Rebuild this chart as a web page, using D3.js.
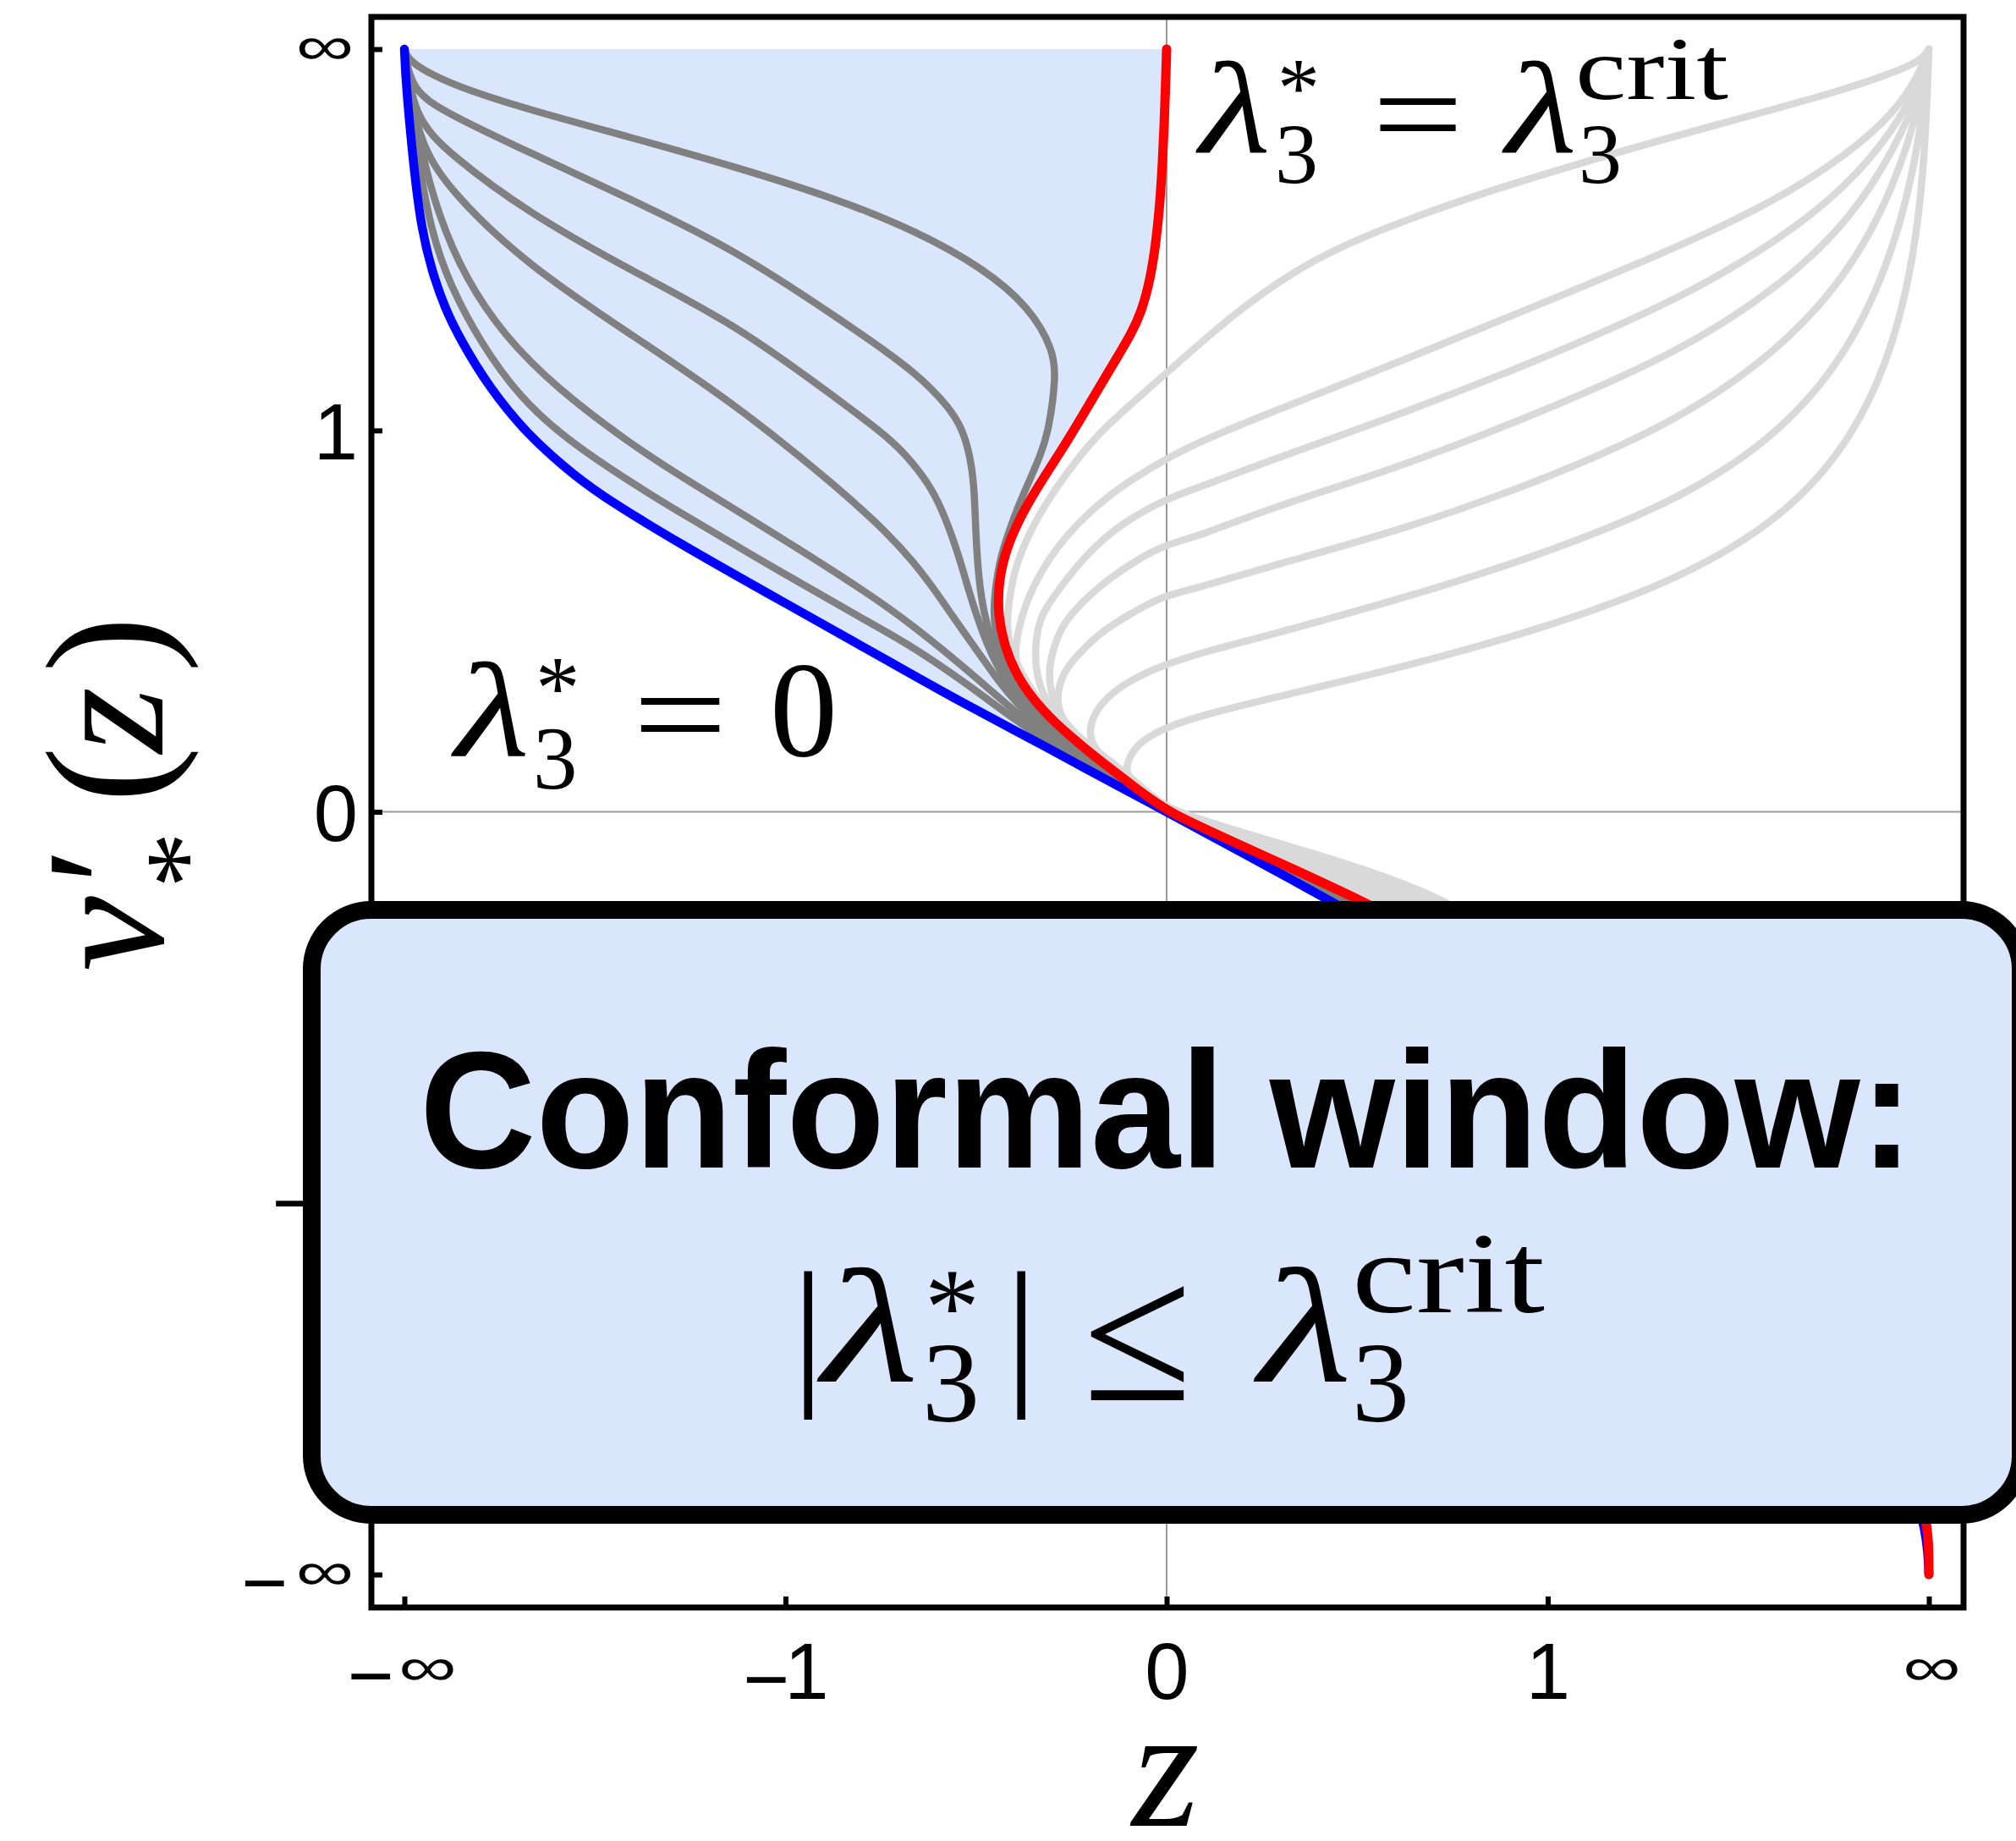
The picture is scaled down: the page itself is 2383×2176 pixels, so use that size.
<!DOCTYPE html>
<html>
<head>
<meta charset="utf-8">
<script src="https://cdn.jsdelivr.net/npm/d3@7"></script>
<style>
  html, body { margin: 0; padding: 0; background: #ffffff; }
  svg { display: block; }
</style>
</head>
<body>
<script>
// Both axes are compactified: t = s / (1 + |s|), so that ±∞ sit at t = ±1.
const xTickValues = [-1, -0.5, 0, 0.5, 1];
const xTickLabels = ["−∞", "−1", "0", "1", "∞"];
const yTickValues = [-1, -0.5, 0, 0.5, 1];
const yTickLabels = ["−∞", "−1", "0", "1", "∞"];

// λ3* = 0 solution (compactified z, compactified v'*)
const blueCurve = [
  [-1, 1], [-0.998, 0.959], [-0.9933, 0.9035], [-0.9865, 0.8342], [-0.9776, 0.7649],
  [-0.9641, 0.7094], [-0.9471, 0.6609], [-0.9267, 0.6193], [-0.8893, 0.5569],
  [-0.8383, 0.4945], [-0.79, 0.452], [-0.75, 0.4195], [-0.6345, 0.3489], [-0.4986, 0.2726],
  [-0.3627, 0.1964], [-0.2709, 0.1444], [-0.1588, 0.0855], [-0.0569, 0.03], [0, 0],
  [0.083, -0.045], [0.213, -0.1152], [0.36, -0.2], [0.51, -0.29], [0.66, -0.4],
  [0.79, -0.54], [0.89, -0.69], [0.955, -0.83], [0.997, -0.93], [1, -1]
];

// λ3* = λ3^crit solution
const redCurve = [
  [0, 1], [-0.0015, 0.95], [-0.0032, 0.9], [-0.0055, 0.85], [-0.0087, 0.8],
  [-0.0135, 0.75], [-0.021, 0.7], [-0.033, 0.655], [-0.0475, 0.625], [-0.0625, 0.6],
  [-0.0766, 0.5763], [-0.1099, 0.52], [-0.1395, 0.4713], [-0.1691, 0.4263],
  [-0.195, 0.3813], [-0.2135, 0.3363], [-0.2209, 0.295], [-0.2209, 0.2576],
  [-0.2135, 0.22], [-0.1987, 0.1825], [-0.1765, 0.1488], [-0.1469, 0.117],
  [-0.1099, 0.085], [-0.0729, 0.056], [-0.0359, 0.028], [0, 0], [0.1, -0.045],
  [0.2552, -0.1152], [0.4, -0.19], [0.55, -0.27], [0.7, -0.38], [0.82, -0.52],
  [0.91, -0.67], [0.97, -0.81], [0.996, -0.92], [1, -0.96], [1, -1]
];

// intermediate couplings 0 < λ3* < λ3^crit
const grayCurves = [
  [[-1, 1], [-0.9946, 0.9833], [-0.9403, 0.9535], [-0.8383, 0.9209], [-0.7024, 0.8841],
   [-0.5665, 0.846], [-0.4306, 0.803], [-0.3287, 0.7614], [-0.2404, 0.7129],
   [-0.1792, 0.6609], [-0.1486, 0.6054], [-0.1452, 0.5708], [-0.1543, 0.5013],
   [-0.1654, 0.4675], [-0.1802, 0.4338], [-0.195, 0.4], [-0.2061, 0.37],
   [-0.2172, 0.3363], [-0.2227, 0.3063], [-0.2264, 0.2763], [-0.2264, 0.25],
   [-0.222, 0.22], [-0.2098, 0.1825], [-0.15, 0.114], [-0.1, 0.0736],
   [-0.05, 0.037], [0, 0]],
  [[-1, 1], [-0.9912, 0.9451], [-0.9403, 0.914], [-0.8383, 0.8654], [-0.7024, 0.803],
   [-0.5665, 0.7371], [-0.4306, 0.647], [-0.3627, 0.6], [-0.3319, 0.576],
   [-0.3097, 0.556], [-0.2875, 0.532], [-0.269, 0.505], [-0.2579, 0.4675],
   [-0.2523, 0.4263], [-0.2505, 0.3663], [-0.2468, 0.3063], [-0.2394, 0.2576],
   [-0.2283, 0.22], [-0.2135, 0.1825], [-0.2, 0.163], [-0.15, 0.109], [-0.1, 0.0706],
   [-0.05, 0.0356], [0, 0]],
  [[-1, 1], [-0.9878, 0.9105], [-0.9403, 0.862], [-0.8383, 0.7857], [-0.7024, 0.7094],
   [-0.5665, 0.6401], [-0.4306, 0.5403], [-0.3627, 0.4896], [-0.3319, 0.4563],
   [-0.3097, 0.4263], [-0.2912, 0.3888], [-0.2727, 0.3363], [-0.2579, 0.2838],
   [-0.2431, 0.2388], [-0.2246, 0.1938], [-0.2, 0.154], [-0.15, 0.104],
   [-0.1, 0.0678], [-0.05, 0.034], [0, 0]],
  [[-1, 1], [-0.9844, 0.8827], [-0.9403, 0.8134], [-0.8383, 0.7164], [-0.7024, 0.6255],
   [-0.5665, 0.535], [-0.4306, 0.425], [-0.3627, 0.362], [-0.3319, 0.327],
   [-0.3097, 0.2985], [-0.2875, 0.2665], [-0.2653, 0.2345], [-0.2431, 0.2035],
   [-0.2209, 0.172], [-0.2, 0.145], [-0.15, 0.099], [-0.1, 0.0644], [-0.05, 0.0324],
   [0, 0]],
  [[-1, 1], [-0.982, 0.88], [-0.955, 0.78], [-0.92, 0.7], [-0.87, 0.625],
   [-0.8, 0.555], [-0.7, 0.48], [-0.6345, 0.438], [-0.4986, 0.355], [-0.3967, 0.29],
   [-0.3319, 0.244], [-0.2579, 0.183], [-0.2, 0.132], [-0.15, 0.0935], [-0.1, 0.0614],
   [-0.05, 0.031], [0, 0]],
  [[-1, 1], [-0.985, 0.87], [-0.965, 0.76], [-0.94, 0.69], [-0.9, 0.615],
   [-0.85, 0.545], [-0.79, 0.49], [-0.7, 0.43], [-0.6345, 0.39], [-0.4986, 0.31],
   [-0.3967, 0.252], [-0.3319, 0.216], [-0.2579, 0.165], [-0.2, 0.121],
   [-0.15, 0.088], [-0.1, 0.058], [-0.05, 0.029], [0, 0]]
];
// common continuation of the intermediate curves for z > 0
const grayTail = [
  [0.105, -0.048], [0.233, -0.1152], [0.38, -0.195], [0.53, -0.28], [0.68, -0.39],
  [0.81, -0.53], [0.905, -0.68], [0.965, -0.82], [0.997, -0.93], [1, -1]
];

// couplings beyond the window, λ3* > λ3^crit
const lightCurves = [
  [[1, 1], [0.991, 0.9867], [0.9644, 0.9729], [0.8848, 0.9451], [0.7521, 0.9091],
   [0.5751, 0.8606], [0.3982, 0.8065], [0.2655, 0.758], [0.177, 0.7164], [0.0885, 0.654],
   [0.0011, 0.5763], [-0.0507, 0.5313], [-0.0951, 0.49], [-0.1247, 0.4526],
   [-0.1543, 0.4113], [-0.1802, 0.3663], [-0.1987, 0.3213], [-0.207, 0.2763],
   [-0.21, 0.245], [-0.205, 0.213], [-0.191, 0.1825], [-0.1705, 0.1488],
   [-0.1409, 0.117], [-0.1039, 0.085], [-0.0669, 0.056], [-0.0299, 0.028], [0.004, 0],
   [0.12, -0.05], [0.27, -0.1152]],
  [[1, 1], [0.9866, 0.9659], [0.9556, 0.9174], [0.8937, 0.8619], [0.7963, 0.7995],
   [0.6636, 0.7372], [0.4866, 0.6644], [0.3097, 0.5915], [0.1327, 0.5222],
   [0.0455, 0.4863], [0.0011, 0.4638], [-0.0433, 0.4375], [-0.0803, 0.4113],
   [-0.1136, 0.3813], [-0.1432, 0.3476], [-0.1654, 0.3138], [-0.1839, 0.2763],
   [-0.195, 0.2388], [-0.1995, 0.205], [-0.194, 0.175], [-0.176, 0.1488],
   [-0.145, 0.118], [-0.107, 0.087], [-0.069, 0.058], [-0.031, 0.029], [0.004, 0],
   [0.13, -0.05], [0.29, -0.1152]],
  [[1, 1], [0.9892, 0.959], [0.9556, 0.8966], [0.8937, 0.8203], [0.7963, 0.7441],
   [0.6636, 0.6678], [0.4866, 0.5915], [0.3097, 0.5222], [0.1327, 0.4598],
   [0.0455, 0.4263], [0.0011, 0.4113], [-0.0544, 0.3813], [-0.0951, 0.3476],
   [-0.1247, 0.3138], [-0.1469, 0.2838], [-0.1654, 0.2576], [-0.1728, 0.2201],
   [-0.1715, 0.1825], [-0.162, 0.152], [-0.142, 0.12], [-0.108, 0.089], [-0.07, 0.06],
   [-0.032, 0.03], [0.004, 0], [0.14, -0.05], [0.31, -0.1152]],
  [[1, 1], [0.991, 0.9521], [0.9556, 0.8689], [0.8937, 0.7718], [0.7963, 0.6817],
   [0.6636, 0.5985], [0.4866, 0.5222], [0.3097, 0.4529], [0.1327, 0.3974],
   [0.0455, 0.3625], [0.0011, 0.3513], [-0.0359, 0.3325], [-0.0803, 0.3025],
   [-0.1099, 0.2763], [-0.1358, 0.2463], [-0.1469, 0.2201], [-0.1543, 0.19],
   [-0.1535, 0.1638], [-0.145, 0.1338], [-0.124, 0.105], [-0.092, 0.08], [-0.06, 0.056],
   [-0.03, 0.03], [0.004, 0], [0.15, -0.05], [0.33, -0.1152]],
  [[1, 1], [0.991, 0.9382], [0.9556, 0.8203], [0.8937, 0.7025], [0.7963, 0.5985],
   [0.6636, 0.5084], [0.4866, 0.4321], [0.3097, 0.3697], [0.1327, 0.3212],
   [0.0455, 0.295], [0.0011, 0.2838], [-0.0174, 0.2763], [-0.0581, 0.2538],
   [-0.0914, 0.2313], [-0.1173, 0.2051], [-0.1358, 0.1825], [-0.1432, 0.1563],
   [-0.1425, 0.1375], [-0.134, 0.115], [-0.113, 0.092], [-0.085, 0.072], [-0.055, 0.05],
   [-0.027, 0.027], [0.004, 0], [0.16, -0.05], [0.35, -0.1152]],
  [[1, 1], [0.9892, 0.8827], [0.9556, 0.7372], [0.8937, 0.5985], [0.7963, 0.4876],
   [0.6636, 0.4044], [0.4866, 0.3351], [0.3097, 0.2796], [0.1327, 0.2311],
   [0.0455, 0.2088], [0.0011, 0.1938], [-0.0359, 0.1788], [-0.0729, 0.1563],
   [-0.0951, 0.13], [-0.1025, 0.1038], [-0.095, 0.083], [-0.075, 0.064], [-0.047, 0.044],
   [-0.022, 0.023], [0.004, 0], [0.17, -0.05], [0.37, -0.1152]],
  [[1, 1], [0.9954, 0.8689], [0.9821, 0.7302], [0.9467, 0.5846], [0.8848, 0.4668],
   [0.7963, 0.3766], [0.6636, 0.3004], [0.4866, 0.238], [0.3097, 0.1895],
   [0.1327, 0.1479], [0.0455, 0.1263], [0.0011, 0.1113], [-0.0285, 0.0963],
   [-0.047, 0.0775], [-0.0544, 0.055], [-0.047, 0.04], [-0.0285, 0.025], [0.004, 0],
   [0.18, -0.05], [0.385, -0.1152]]
];
// common continuation of the light curves toward (∞, −∞)
const lightTail = [
  [0.47, -0.2], [0.63, -0.3], [0.78, -0.43], [0.89, -0.6], [0.96, -0.77],
  [0.997, -0.93], [1, -1]
];

const W = 2383, H = 2176;
const FRAME = { left: 439, right: 2321, top: 20, bottom: 1900 };
const SANS = "'Liberation Sans', Arial, sans-serif";
const SERIF = "'Liberation Serif', 'DejaVu Serif', serif";

const svg = d3.select("body").append("svg")
  .attr("width", W).attr("height", H)
  .attr("viewBox", `0 0 ${W} ${H}`);

const x = d3.scaleLinear().domain([-1.0433, 1.0455]).range([FRAME.left, FRAME.right]);
const y = d3.scaleLinear().domain([-1.0432, 1.0422]).range([FRAME.bottom, FRAME.top]);

const line = d3.line()
  .x(d => x(d[0]))
  .y(d => y(d[1]))
  .curve(d3.curveBasis);

svg.append("defs").append("clipPath").attr("id", "plotClip")
  .append("rect")
  .attr("x", FRAME.left).attr("y", FRAME.top)
  .attr("width", FRAME.right - FRAME.left).attr("height", FRAME.bottom - FRAME.top);

const plot = svg.append("g").attr("clip-path", "url(#plotClip)");

// shaded conformal-window region between the λ3* = 0 and critical curves
const redUpper = redCurve.filter(d => d[1] >= 0);
const blueUpper = blueCurve.filter(d => d[1] >= 0).slice().reverse();
plot.append("path")
  .attr("d", line(redUpper) + "L" + line(blueUpper).slice(1) + "Z")
  .attr("fill", "#dae6fc")
  .attr("stroke", "none");

// axes through the origin
plot.append("line")
  .attr("x1", x(0)).attr("x2", x(0))
  .attr("y1", FRAME.top).attr("y2", FRAME.bottom)
  .attr("stroke", "#9a9a9a").attr("stroke-width", 2);
plot.append("line")
  .attr("x1", FRAME.left).attr("x2", FRAME.right)
  .attr("y1", y(0)).attr("y2", y(0))
  .attr("stroke", "#9a9a9a").attr("stroke-width", 2);

function drawCurve(pts, color, width) {
  plot.append("path").attr("d", line(pts))
    .attr("fill", "none")
    .attr("stroke", color).attr("stroke-width", width)
    .attr("stroke-linejoin", "round").attr("stroke-linecap", "round");
}

lightCurves.forEach(c => drawCurve(c.concat(lightTail), "#d9d9d9", 8.5));
grayCurves.forEach(c => drawCurve(c.concat(grayTail), "#808080", 8.5));
drawCurve(blueCurve, "#0000ff", 10.5);
drawCurve(redCurve, "#ff0000", 11);

// axes with inward ticks
const yAxis = d3.axisLeft(y)
  .tickValues(yTickValues)
  .tickFormat((d, i) => yTickLabels[i])
  .tickSizeInner(-13).tickSizeOuter(0);
const xAxis = d3.axisBottom(x)
  .tickValues(xTickValues)
  .tickFormat((d, i) => xTickLabels[i])
  .tickSizeInner(-13).tickSizeOuter(0);

const gy = svg.append("g").attr("transform", `translate(${FRAME.left},0)`).call(yAxis);
const gx = svg.append("g").attr("transform", `translate(0,${FRAME.bottom})`).call(xAxis);

// tick labels: the minus sits a little low, ∞ is drawn wide and flat
function styleTicks(g, labels, vertical) {
  g.select(".domain").remove();
  g.selectAll(".tick line").attr("stroke", "#000").attr("stroke-width", 6);
  g.selectAll(".tick").each(function (d, i) {
    const tick = d3.select(this);
    const label = labels[i];
    tick.select("text").remove();
    const neg = label.startsWith("−");
    const body = neg ? label.slice(1) : label;
    if (body === "∞") {
      const cx = vertical ? -55 : (neg ? 27 : 3);
      const cy = vertical ? 17 : 92;
      const t = tick.append("text")
        .attr("font-family", SANS).attr("font-size", 64)
        .attr("text-anchor", "middle")
        .attr("transform", `translate(${cx},${cy}) scale(1.5,1)`)
        .attr("fill", "#000");
      t.append("tspan").text("∞");
      if (neg) {
        tick.append("text")
          .attr("x", vertical ? -126 : -40).attr("y", vertical ? 41 : 113)
          .attr("text-anchor", "middle")
          .attr("font-family", SANS).attr("font-size", 94)
          .attr("fill", "#000").text("−");
      }
    } else {
      const t = tick.append("text")
        .attr("font-family", SANS).attr("font-size", 94).attr("fill", "#000")
        .attr("text-anchor", vertical ? "end" : "middle")
        .attr("x", vertical ? -16 : 0)
        .attr("y", vertical ? 34 : 108);
      if (neg) {
        t.append("tspan").attr("dy", 9).text("−");
        t.append("tspan").attr("dy", -9).attr("dx", -6).text(body);
      } else {
        t.text(body);
      }
    }
  });
}
styleTicks(gy, yTickLabels, true);
styleTicks(gx, xTickLabels, false);

// frame
svg.append("rect")
  .attr("x", FRAME.left).attr("y", FRAME.top)
  .attr("width", FRAME.right - FRAME.left).attr("height", FRAME.bottom - FRAME.top)
  .attr("fill", "none").attr("stroke", "#000").attr("stroke-width", 7);

// a formula is one <text>; every piece is a positioned <tspan>
function formula(g, pieces, opts = {}) {
  const t = g.append("text").attr("fill", "#000")
    .attr("font-family", opts.family || SERIF);
  if (opts.transform) t.attr("transform", opts.transform);
  pieces.forEach(p => {
    const s = t.append("tspan")
      .attr("x", p.x).attr("y", p.y)
      .attr("font-size", p.size)
      .attr("font-style", p.italic ? "italic" : "normal")
      .text(p.t);
    if (p.len) s.attr("textLength", p.len).attr("lengthAdjust", "spacingAndGlyphs");
  });
  return t;
}

// curve annotations
formula(svg, [
  { t: "λ", x: 1418, y: 180, size: 155, italic: true, len: 84 },
  { t: "*", x: 1510, y: 137, size: 100 },
  { t: "3", x: 1507, y: 217, size: 102 },
  { t: "=", x: 1622, y: 187, size: 155, len: 108 },
  { t: "λ", x: 1780, y: 180, size: 155, italic: true, len: 84 },
  { t: "crit", x: 1862, y: 117, size: 105, len: 181 },
  { t: "3", x: 1866, y: 217, size: 102 }
]);

formula(svg, [
  { t: "λ", x: 538, y: 893, size: 158, italic: true, len: 88 },
  { t: "*", x: 633, y: 849, size: 105 },
  { t: "3", x: 630, y: 932, size: 105 },
  { t: "=", x: 748, y: 898, size: 158, len: 112 },
  { t: "0", x: 910, y: 893, size: 160 }
]);

// axis titles
formula(svg, [{ t: "z", x: 1338, y: 2158, size: 205, italic: true }]);
formula(svg, [
  { t: "v", x: -203, y: 0, size: 200, italic: true },
  { t: "′", x: -100, y: 0, size: 200 },
  { t: "*", x: -105, y: 72, size: 133 },
  { t: "(", x: -4, y: 0, size: 200 },
  { t: "z", x: 55, y: 0, size: 200, italic: true },
  { t: ")", x: 150, y: 0, size: 200 }
], { transform: "translate(192,945) rotate(-90)" });

// conformal window box
svg.append("rect")
  .attr("x", 368.5).attr("y", 1075.5)
  .attr("width", 2020).attr("height", 715)
  .attr("rx", 70).attr("ry", 70)
  .attr("fill", "#d9e6fc")
  .attr("stroke", "#000").attr("stroke-width", 21);

svg.append("text")
  .attr("x", 1379).attr("y", 1380)
  .attr("text-anchor", "middle")
  .attr("font-family", SANS).attr("font-weight", "bold").attr("font-size", 196)
  .attr("textLength", 1766).attr("lengthAdjust", "spacingAndGlyphs")
  .attr("fill", "#000")
  .text("Conformal window:");

formula(svg, [
  { t: "|", x: 936, y: 1636, size: 192 },
  { t: "λ", x: 972, y: 1633, size: 192, italic: true, len: 114 },
  { t: "*", x: 1093, y: 1588, size: 130 },
  { t: "3", x: 1090, y: 1680, size: 136 },
  { t: "|", x: 1188, y: 1636, size: 192 },
  { t: "≤", x: 1280, y: 1655, size: 235 },
  { t: "λ", x: 1488, y: 1633, size: 192, italic: true, len: 110 },
  { t: "crit", x: 1598, y: 1551, size: 135, len: 228 },
  { t: "3", x: 1598, y: 1680, size: 136 }
]);
</script>
</body>
</html>
